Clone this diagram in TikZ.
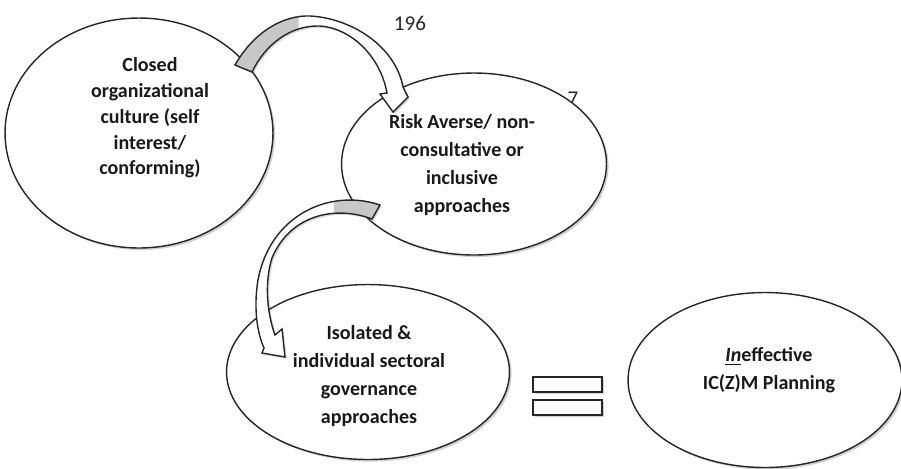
\documentclass[tikz,border=0pt]{standalone}
\usepackage{fontspec}
\newfontfamily\calib{Carlito}
\usetikzlibrary{shapes.geometric,shadows}
\tikzset{
  oval/.style={ellipse, draw=black!85, line width=0.8pt, fill=white, inner sep=0pt,
    drop shadow={shadow xshift=1.2pt, shadow yshift=-1.2pt, opacity=0.3, fill=black!60}},
  lbl/.style={font=\calib\bfseries\fontsize{11.4}{15.8}\selectfont, align=center, text=black!90},
  num/.style={font=\calib\fontsize{12}{14}\selectfont, text=black!85},
  bar/.style={rectangle, draw=black!85, line width=0.8pt, fill=white, inner sep=0pt,
    minimum width=1.38cm, minimum height=0.3cm,
    drop shadow={shadow xshift=1pt, shadow yshift=-1pt, opacity=0.3, fill=black!60}},
  swoop/.style={draw=black!85, line width=0.8pt},
  swoopfill/.style={fill=white, drop shadow={shadow xshift=1pt, shadow yshift=-1pt, opacity=0.25, fill=black!60}},
  underside/.style={fill=black!22}
}
% curved block arrows (pixel coordinates)
\newcommand\swoopA{(235,65) .. controls (255,30) and (285,15) .. (310,16)
  .. controls (350,18) and (395,45) .. (403,87) -- (408,97) -- (393,112) -- (380,94) -- (387,93)
  .. controls (380,55) and (350,28) .. (320,26) .. controls (290,25) and (265,45) .. (252,72) -- cycle}
\newcommand\swoopB{(380,205) .. controls (330,188) and (270,215) .. (258,280)
  .. controls (253,310) and (258,335) .. (264,348) -- (262,353) -- (285,357) -- (282,329) -- (275,335)
  .. controls (266,310) and (265,280) .. (272,258) .. controls (290,215) and (335,205) .. (372,219) -- cycle}
\begin{document}
\begin{tikzpicture}[x=0.02cm, y=-0.02cm]
  \useasboundingbox (0,0) rectangle (901,468);
  \node[num] (p196) at (410,23) {196};
  \node[num] (p197) at (573,99) {7};
  % the four ovals
  \node[oval, minimum width=5.36cm, minimum height=4.6cm] (closed) at (139,133) {};
  \node[oval, minimum width=5.3cm, minimum height=3.64cm] (risk) at (474,164) {};
  \node[oval, minimum width=5.66cm, minimum height=3.5cm] (isolated) at (368,372) {};
  \node[oval, minimum width=5.48cm, minimum height=3.5cm] (ineff) at (765,380) {};
  \node[lbl, font=\calib\bfseries\fontsize{11.4}{14.7}\selectfont] (closedtxt) at (150,118)
    {Closed\\organizational\\culture (self\\interest/\\conforming)};
  \node[lbl] (risktxt) at (462,165) {Risk Averse/ non-\\consultative or\\inclusive\\approaches};
  \node[lbl] (isotxt) at (369,376) {Isolated \&\\individual sectoral\\governance\\approaches};
  \node[lbl] (inefftxt) at (769,370) {\underline{\itshape In}effective\\IC(Z)M Planning};
  % equals sign
  \node[bar] (eqtop) at (567.5,384.5) {};
  \node[bar] (eqbot) at (567.5,407.5) {};
  % arrow closed -> risk
  \path[swoopfill] \swoopA;
  \fill[underside] (235,65) .. controls (252,35.25) and (276.2,19.95) .. (298.5,16.64)
    -- (298.5,29) .. controls (278.25,35.44) and (261.75,51.75) .. (252,72) -- cycle;
  \draw[swoop] \swoopA;
  % arrow risk -> isolated
  \path[swoopfill] \swoopB;
  \fill[underside] (380,205) .. controls (365,199.9) and (349.1,198.76) .. (333.9,201.4)
    -- (334,213.3) .. controls (346.7,212.3) and (359.8,214.4) .. (372,219) -- cycle;
  \draw[swoop] \swoopB;
\end{tikzpicture}
\end{document}
